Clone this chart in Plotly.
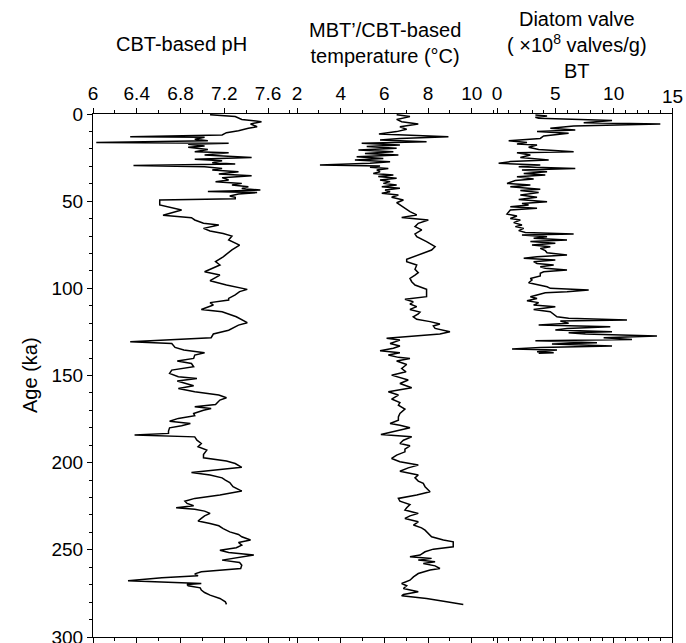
import plotly.graph_objects as go

# ---------------- data ----------------
ph_age = [0.4, 1.5, 3.1, 4.4, 5.7, 7.3, 8.2, 9.6, 10.7, 12.0, 13.0, 13.4, 14.5, 15.3, 16.3, 16.4, 16.8, 17.4,
          18.4, 19.1, 20.3, 21.6, 22.2, 23.5, 24.9, 26.0, 26.8, 27.9, 28.7, 29.6, 30.2, 31.2, 32.1, 33.1, 34.4,
          35.4, 36.5, 37.9, 38.8, 39.8, 40.7, 41.7, 42.8, 43.6, 44.4, 45.1, 45.9, 47.0, 47.8, 48.6, 49.3, 52.2,
          55.1, 58.1, 59.5, 60.8, 62.7, 63.7, 65.6, 67.1, 68.5, 70.0, 72.3, 75.2, 78.0, 81.9, 84.7, 86.6, 90.5,
          92.4, 95.6, 98.1, 100.6, 101.9, 103.8, 105.8, 106.7, 108.2, 109.6, 112.1, 113.4, 116.3, 117.8, 119.7,
          121.1, 124.0, 126.2, 128.3, 130.6, 131.6, 133.9, 135.4, 136.9, 138.3, 140.2, 141.7, 143.1, 145.0,
          146.9, 148.8, 150.7, 151.7, 153.2, 154.6, 155.9, 157.4, 159.3, 161.2, 162.8, 164.1, 166.6, 167.9,
          168.9, 169.9, 171.8, 173.1, 174.6, 176.2, 177.5, 178.8, 180.0, 181.9, 183.2, 184.2, 184.6, 185.2,
          187.1, 189.0, 190.9, 192.8, 195.3, 197.2, 199.1, 200.5, 202.7, 204.3, 205.6, 207.1, 208.7, 210.0,
          211.4, 213.8, 216.3, 218.6, 220.5, 222.1, 223.4, 224.7, 225.9, 226.7, 227.8, 229.1, 230.5, 232.0,
          233.5, 234.9, 236.2, 237.8, 239.7, 241.2, 242.5, 244.4, 245.8, 247.3, 248.8, 250.2, 251.5, 253.0,
          254.6, 255.9, 257.3, 258.8, 260.7, 262.6, 263.8, 264.9, 266.0, 267.8, 269.3, 269.9, 270.6, 271.8,
          273.1, 274.5, 276.0, 277.9, 279.8, 281.3]
ph_val = [7.07, 7.30, 7.36, 7.54, 7.44, 7.50, 7.42, 7.33, 7.22, 7.18, 6.34, 7.02, 6.93, 7.05, 6.03, 6.81, 7.24, 6.87,
          7.02, 6.87, 7.05, 6.93, 7.24, 7.02, 7.45, 6.93, 7.18, 7.09, 7.30, 6.37, 7.02, 7.18, 7.09, 7.33, 7.15,
          7.45, 7.18, 7.24, 7.12, 7.36, 7.27, 7.42, 7.36, 7.53, 7.05, 7.50, 7.33, 7.25, 7.30, 7.30, 6.61, 6.61,
          6.81, 6.64, 6.90, 6.93, 7.01, 7.15, 7.01, 7.07, 7.19, 7.27, 7.24, 7.34, 7.27, 7.19, 7.12, 7.16, 7.02,
          7.16, 7.07, 7.22, 7.41, 7.34, 7.30, 7.24, 7.24, 7.07, 7.10, 6.99, 7.18, 7.31, 7.36, 7.41,
          7.33, 7.24, 7.10, 7.08, 6.34, 6.72, 6.75, 6.83, 7.02, 6.93, 6.92, 6.77, 6.90, 6.92,
          6.72, 6.70, 6.78, 6.95, 6.77, 6.84, 6.92, 6.78, 6.93, 7.15, 7.22, 7.16, 7.12, 6.93,
          7.08, 7.01, 6.92, 6.93, 6.78, 6.70, 6.89, 6.81, 6.70, 6.69, 6.69, 6.38, 6.63, 6.93,
          6.95, 6.99, 6.96, 7.04, 7.01, 7.01, 7.22, 7.30, 7.36, 7.07, 6.90, 7.07, 7.18, 7.21,
          7.25, 7.28, 7.36, 7.16, 6.93, 6.84, 6.86, 6.92, 6.76, 6.93, 7.02, 7.07, 7.02, 6.99,
          6.96, 7.07, 7.15, 7.19, 7.25, 7.33, 7.36, 7.44, 7.33, 7.36, 7.31, 7.16, 7.24, 7.47,
          7.30, 7.18, 7.34, 7.36, 7.35, 6.99, 6.93, 6.96, 6.63, 6.32, 6.99, 6.86, 6.87, 6.98,
          6.99, 7.02, 7.07, 7.16, 7.21, 7.22]

temp_age = [0.4, 1.5, 3.1, 4.4, 5.7, 7.3, 8.8, 10.1, 11.5, 12.0, 13.0, 14.0, 14.9, 15.9, 16.8, 17.8, 18.7, 19.7,
            20.7, 21.6, 22.6, 23.5, 24.5, 25.5, 26.4, 27.4, 28.3, 29.3, 29.8, 30.6, 31.2, 32.1, 33.1, 34.1,
            35.0, 35.9, 36.9, 37.9, 38.8, 39.8, 40.7, 41.7, 42.6, 43.6, 44.6, 45.5, 46.5, 47.8, 49.3, 50.9,
            52.2, 54.1, 56.0, 57.9, 59.3, 60.8, 62.7, 64.6, 66.5, 68.8, 70.4, 73.2, 76.1, 78.0, 79.9, 81.9,
            83.4, 84.7, 86.6, 89.1, 91.0, 92.4, 94.3, 96.2, 98.1, 100.6, 102.5, 104.8, 106.3, 107.7, 109.0,
            110.5, 112.1, 113.6, 114.7, 116.3, 117.8, 119.1, 120.5, 121.6, 123.0, 124.9, 126.2, 128.7, 129.7,
            131.6, 133.1, 134.4, 135.8, 136.9, 138.3, 139.6, 140.2, 141.7, 143.7, 146.0, 147.9, 149.8, 152.6,
            154.6, 157.0, 159.3, 161.2, 163.5, 165.5, 167.0, 169.3, 171.8, 173.7, 175.6, 177.5, 178.5, 180.0,
            181.3, 182.7, 183.8, 185.2, 187.1, 189.0, 190.3, 192.2, 193.8, 195.7, 197.6, 199.5, 201.4, 203.0,
            204.9, 207.1, 208.7, 210.6, 211.9, 213.8, 215.8, 216.7, 218.6, 220.5, 222.1, 224.0, 225.9, 227.2,
            229.1, 230.5, 232.0, 233.9, 235.8, 237.4, 238.7, 240.6, 242.5, 244.4, 245.4, 248.3, 249.6, 251.1,
            253.0, 254.0, 254.9, 255.9, 256.9, 257.8, 259.2, 260.7, 261.6, 263.6, 265.5, 267.4, 269.3, 270.6,
            272.2, 274.1, 275.6, 276.4, 277.9, 279.8, 281.3]
temp_val = [6.56, 7.17, 6.56, 6.79, 7.55, 6.71, 7.02, 6.56, 5.75, 7.17, 8.93, 6.71, 5.80, 7.93, 4.96, 6.71, 5.19, 6.56,
            4.81, 6.41, 5.11, 6.64, 4.73, 5.95, 4.65, 6.26, 5.34, 3.05, 5.80, 5.34, 6.18, 5.65, 5.80, 5.49,
            6.41, 5.72, 6.56, 5.80, 6.26, 5.95, 6.56, 5.88, 6.71, 6.03, 6.26, 5.88, 6.64, 6.33, 6.87, 6.56,
            6.71, 6.94, 7.17, 7.48, 6.79, 8.01, 7.55, 7.40, 7.71, 7.40, 7.48, 7.93, 8.32, 8.16, 7.78, 7.32,
            7.02, 7.02, 7.48, 7.40, 7.55, 7.40, 7.17, 7.25, 7.40, 7.93, 7.93, 7.93, 6.94, 7.32, 7.17,
            7.48, 7.17, 7.63, 7.55, 7.32, 7.48, 8.09, 8.54, 8.24, 8.32, 9.00, 8.54, 6.10, 6.71,
            6.26, 6.71, 6.41, 5.80, 6.71, 6.18, 6.64, 7.17, 6.56, 7.02, 6.79, 6.99, 6.33, 7.09,
            6.71, 7.25, 6.18, 6.64, 6.33, 6.71, 6.64, 6.94, 6.71, 6.64, 6.64, 6.26, 6.71, 7.17,
            6.71, 6.33, 5.84, 7.25, 6.87, 6.71, 7.17, 6.94, 6.94, 6.56, 6.33, 6.71, 7.55, 7.09,
            6.71, 7.55, 7.40, 7.55, 7.78, 7.86, 8.01, 8.09, 7.48, 6.64, 6.71, 7.17, 7.02, 6.94,
            7.55, 7.17, 6.94, 7.55, 7.33, 7.70, 7.86, 8.01, 8.16, 8.70, 9.15, 9.15, 8.24, 7.86,
            7.63, 7.17, 8.16, 7.55, 8.32, 7.78, 8.32, 8.54, 8.09, 7.55, 7.33, 7.17, 6.79, 7.02,
            6.87, 7.55, 6.87, 6.79, 7.93, 8.85, 9.61]

diatom_age = [0.6, 1.1, 1.9, 2.5, 3.1, 3.8, 5.0, 5.7, 6.9, 8.2, 9.2, 10.1, 11.1, 12.6, 14.0, 15.3, 16.4, 17.2,
              17.8, 19.1, 20.3, 21.6, 22.2, 23.5, 24.9, 26.4, 27.3, 28.3, 29.3, 30.2, 31.2, 32.1, 33.1, 34.1,
              35.0, 36.0, 37.3, 38.2, 39.8, 40.7, 41.7, 43.2, 43.9, 45.1, 46.5, 47.8, 49.0, 50.3, 51.3, 52.2,
              53.2, 54.1, 55.1, 56.0, 57.4, 58.5, 59.9, 60.8, 62.3, 63.7, 64.6, 65.6, 66.9, 68.0, 68.8, 69.4,
              70.4, 71.3, 72.3, 73.2, 74.2, 75.2, 76.1, 77.1, 78.4, 79.6, 80.9, 81.9, 82.8, 83.8, 84.7, 85.7,
              86.6, 87.6, 88.5, 89.5, 90.5, 91.4, 92.9, 94.3, 95.2, 96.8, 98.1, 99.1, 100.0, 101.0, 101.9,
              102.5, 103.8, 104.8, 105.8, 107.1, 108.2, 109.6, 110.5, 111.5, 112.1, 113.4, 114.7, 116.3,
              117.2, 118.2, 118.7, 120.1, 121.0, 122.0, 123.0, 123.9, 124.9, 125.5, 126.2, 127.4, 128.3,
              129.3, 130.0, 131.2, 132.0, 133.1, 133.9, 134.8, 135.4, 136.4, 136.9, 137.3]
diatom_val = [3.29, 4.29, 3.29, 3.57, 7.14, 9.86, 7.43, 14.0, 6.57, 4.57, 6.71, 3.43, 6.14, 4.0, 3.71, 1.0, 2.57, 1.71,
              3.43, 2.71, 3.57, 6.57, 1.71, 2.86, 2.0, 4.43, 1.14, 0.14, 3.71, 1.86, 6.71, 2.14, 4.29, 2.29,
              4.14, 1.71, 3.14, 1.57, 0.86, 2.86, 1.14, 3.71, 2.0, 3.57, 2.0, 3.43, 1.86, 4.29, 2.14, 2.71,
              1.14, 3.43, 1.14, 1.0, 0.86, 1.71, 1.14, 2.0, 1.43, 2.14, 1.57, 2.29, 1.86, 2.43, 6.57, 2.14,
              4.29, 3.14, 6.0, 2.86, 5.0, 3.0, 4.57, 3.71, 4.14, 4.29, 6.0, 3.43, 2.29, 5.0, 3.14, 3.43,
              4.86, 3.71, 4.14, 6.0, 4.0, 3.71, 3.71, 2.86, 3.0, 2.71, 3.71, 4.29, 4.57, 7.86, 6.0,
              4.14, 3.43, 2.86, 3.43, 2.57, 3.57, 3.14, 5.0, 3.71, 3.14, 4.57, 4.86, 5.14,
              6.14, 11.14, 5.43, 6.14, 3.57, 9.71, 6.0, 5.0, 9.86, 6.14, 7.57, 13.71, 9.14,
              11.57, 3.29, 8.57, 4.71, 9.86, 3.71, 1.29, 5.14, 3.43, 4.86, 3.57]

ph_ticks = [6, 6.4, 6.8, 7.2, 7.6]
ph_ticktext = ["6", "6.4", "6.8", "7.2", "7.6"]
temp_ticks = [2, 4, 6, 8, 10]
temp_ticktext = ["2", "4", "6", "8", "10"]
diatom_ticks = [0, 5, 10, 15]
diatom_ticktext = ["0", "5", "10", "15"]
age_ticks = [0, 50, 100, 150, 200, 250, 300]

# ---------------- figure ----------------
W, H = 686, 643
X0, X1, Y0, Y1 = 93, 672, 114, 637  # plot area in page pixels
ML, MR, MT, MB = X0, W - X1, Y0, H - Y1
PW = X1 - X0
PH = Y1 - Y0


def px2fx(px):
    return (px - X0) / PW


def py2fy(py):
    return (Y1 - py) / PH


FONT = "Liberation Sans, Arial, sans-serif"
line = dict(color="black", width=1.5)

fig = go.Figure()
fig.add_trace(go.Scatter(x=ph_val, y=ph_age, mode="lines", line=line, xaxis="x", yaxis="y"))
fig.add_trace(go.Scatter(x=temp_val, y=temp_age, mode="lines", line=line, xaxis="x2", yaxis="y2"))
fig.add_trace(go.Scatter(x=diatom_val, y=diatom_age, mode="lines", line=line, xaxis="x3", yaxis="y3"))

d1 = px2fx(297)
d2 = px2fx(497)

tick_font = dict(size=19, color="black", family=FONT)
common_x = dict(side="top", showline=True, linecolor="black", linewidth=1, mirror="allticks",
                ticks="outside", ticklen=5, tickwidth=1, tickcolor="black", showgrid=False,
                zeroline=False, tickfont=tick_font, automargin=False, ticklabeloverflow="allow")

# plotly drops the tick label at the far right end of the last axis, so that
# one label is written as an annotation at the tick's own data position
x3_labels = [t if v != diatom_ticks[-1] else "" for v, t in zip(diatom_ticks, diatom_ticktext)]

fig.update_layout(
    width=W, height=H,
    margin=dict(l=ML, r=MR, t=MT, b=MB, pad=0),
    paper_bgcolor="white", plot_bgcolor="white",
    showlegend=False,
    font=dict(family=FONT, color="black"),
    xaxis=dict(domain=[0, d1], range=[6, 6 + (297 - 93) / 109.4], anchor="y",
               tickvals=ph_ticks, ticktext=ph_ticktext,
               minor=dict(dtick=0.2, tick0=6, ticks="outside", ticklen=3, tickcolor="black"),
               **common_x),
    xaxis2=dict(domain=[d1, d2], range=[2, 2 + 200 / 21.85], anchor="y2",
                tickvals=temp_ticks, ticktext=temp_ticktext,
                minor=dict(dtick=1, tick0=2, ticks="outside", ticklen=3, tickcolor="black"),
                **common_x),
    xaxis3=dict(domain=[d2, 1], range=[0, 15], anchor="y3",
                tickvals=diatom_ticks, ticktext=x3_labels,
                minor=dict(dtick=1, tick0=0, ticks="outside", ticklen=3, tickcolor="black"),
                **common_x),
    yaxis=dict(range=[300.0001, 0], anchor="x", showline=True, linecolor="black", linewidth=1,
               ticks="outside", ticklen=5, tickwidth=1, tickcolor="black", tickvals=age_ticks,
               minor=dict(dtick=10, tick0=0, ticks="outside", ticklen=3, tickcolor="black"),
               showgrid=False, zeroline=False, automargin=False, ticklabeloverflow="allow",
               tickfont=tick_font),
    yaxis2=dict(anchor="x2", matches="y", visible=False),
    yaxis3=dict(anchor="x3", matches="y", side="right", showline=True,
                linecolor="black", linewidth=1, ticks="", showticklabels=False,
                showgrid=False, zeroline=False),
)

fig.add_annotation(text=diatom_ticktext[-1], xref="x3", yref="paper", x=diatom_ticks[-1], y=py2fy(96),
                   xanchor="center", yanchor="middle", showarrow=False, font=tick_font)

ann_font = dict(size=20, color="black", family=FONT)
fig.add_annotation(text="CBT-based pH", xref="paper", yref="paper", x=px2fx(181), y=py2fy(44),
                   xanchor="center", yanchor="middle", showarrow=False, font=ann_font)
fig.add_annotation(text="MBT’/CBT-based<br>temperature (°C)", xref="paper", yref="paper",
                   x=px2fx(385), y=py2fy(43), xanchor="center", yanchor="middle",
                   showarrow=False, font=ann_font)
fig.add_annotation(text="Diatom valve<br>( ×10<sup>8</sup> valves/g)<br>BT", xref="paper", yref="paper",
                   x=px2fx(577), y=py2fy(45), xanchor="center", yanchor="middle",
                   showarrow=False, font=ann_font)
fig.add_annotation(text="Age (ka)", xref="paper", yref="paper", x=px2fx(30), y=py2fy(375),
                   xanchor="center", yanchor="middle", textangle=-90, showarrow=False, font=ann_font)

# remove the default page margin so the figure sits at the window's top-left corner
fig.write_html("out.html", config={"displayModeBar": False},
               post_script="document.body.style.margin='0';document.body.style.overflow='hidden';")
